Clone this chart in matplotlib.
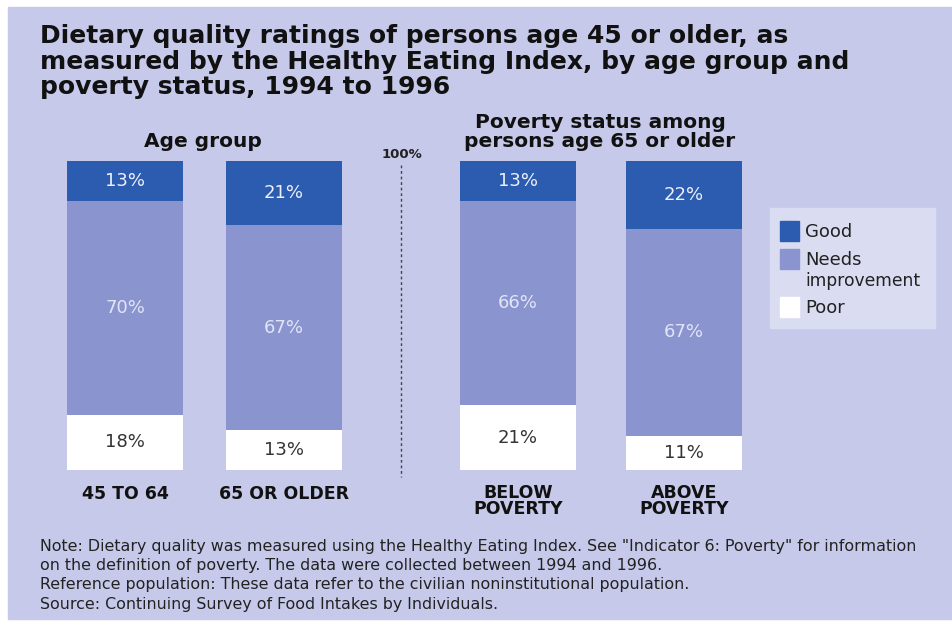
import matplotlib.pyplot as plt
from matplotlib.patches import Rectangle

plt.rcParams["font.family"] = "DejaVu Sans"

# ratings in percent, bottom to top: poor, needs improvement, good
groups = ["45 TO 64", "65 OR OLDER", "BELOW\nPOVERTY", "ABOVE\nPOVERTY"]
poor = [18, 13, 21, 11]
needs = [70, 67, 66, 67]
good = [13, 21, 13, 22]

title_lines = [
    "Dietary quality ratings of persons age 45 or older, as",
    "measured by the Healthy Eating Index, by age group and",
    "poverty status, 1994 to 1996",
]
header_left = "Age group"
header_right = ["Poverty status among", "persons age 65 or older"]
notes = [
    "Note: Dietary quality was measured using the Healthy Eating Index. See \"Indicator 6: Poverty\" for information",
    "on the definition of poverty. The data were collected between 1994 and 1996.",
    "Reference population: These data refer to the civilian noninstitutional population.",
    "Source: Continuing Survey of Food Intakes by Individuals.",
]

bg = "#c6c9e9"
c_good = "#2b5cb0"
c_needs = "#8a95d0"
c_poor = "#ffffff"

W, H = 952, 629
fig = plt.figure(figsize=(W / 100, H / 100), dpi=100)
fig.patch.set_facecolor("white")

# full-canvas axes in pixel units for the panel and text
base = fig.add_axes([0, 0, 1, 1])
base.set_xlim(0, W)
base.set_ylim(H, 0)
base.axis("off")
base.add_patch(Rectangle((8, 7), W - 8, 612, color=bg, zorder=0))

for k, line in enumerate(title_lines):
    base.text(40, 43 + k * 25.5, line, fontsize=18, fontweight="bold",
              va="baseline", ha="left", color="#111111")

base.text(203, 147, header_left, fontsize=14.5, fontweight="bold",
          ha="center", va="baseline", color="#111111")
for k, line in enumerate(header_right):
    base.text(600, 128 + k * 19, line, fontsize=14.5, fontweight="bold",
              ha="center", va="baseline", color="#111111")
base.text(402, 155, "100%", fontsize=9.5, fontweight="bold", ha="center",
          va="center", color="#222222")
base.plot([401, 401], [165, 477], color="#444444", lw=1, ls=(0, (2, 2)))

# bars: y axis 0-100 spans pixel rows 470 (bottom) to 161 (top)
centers = [125, 284, 518, 684]
width = 116
bax = fig.add_axes([0, (H - 470) / H, 1, 309 / H])
bax.set_xlim(0, W)
bax.set_ylim(0, 100)
bax.axis("off")

for i, x in enumerate(centers):
    total = poor[i] + needs[i] + good[i]
    p = poor[i] / total * 100
    n = needs[i] / total * 100
    g = good[i] / total * 100
    bax.bar(x, p, width=width, color=c_poor, linewidth=0)
    bax.bar(x, n, bottom=p, width=width, color=c_needs, linewidth=0)
    bax.bar(x, g, bottom=p + n, width=width, color=c_good, linewidth=0)
    bax.text(x, p / 2, f"{poor[i]}%", ha="center", va="center",
             fontsize=13, color="#333333")
    bax.text(x, p + n / 2, f"{needs[i]}%", ha="center", va="center",
             fontsize=13, color="#e2e4f6")
    bax.text(x, p + n + g / 2, f"{good[i]}%", ha="center", va="center",
             fontsize=13, color="#eef0fb")

for x, lab in zip(centers, groups):
    base.text(x, 494 if "\n" not in lab else 501, lab, ha="center", va="center",
              fontsize=12.5, fontweight="bold", color="#111111", linespacing=0.92)

# legend box
base.add_patch(Rectangle((770, 208), 165, 120, color="#dadcf1", zorder=1))
leg = [(c_good, 221, "Good"), (c_needs, 249, "Needs"), (c_poor, 297, "Poor")]
for col, y, lab in leg:
    base.add_patch(Rectangle((780, y), 19, 20, color=col, zorder=2))
    base.text(805, y + 11, lab, fontsize=13, va="center", ha="left",
              color="#222222", zorder=3)
base.text(805, 281, "improvement", fontsize=12.3, va="center", ha="left",
          color="#222222", zorder=3)

for k, line in enumerate(notes):
    base.text(40, 546 + k * 19.5, line, fontsize=11.4, va="center", ha="left",
              color="#222222")

fig.savefig("out.png", dpi=100, facecolor=fig.get_facecolor())
